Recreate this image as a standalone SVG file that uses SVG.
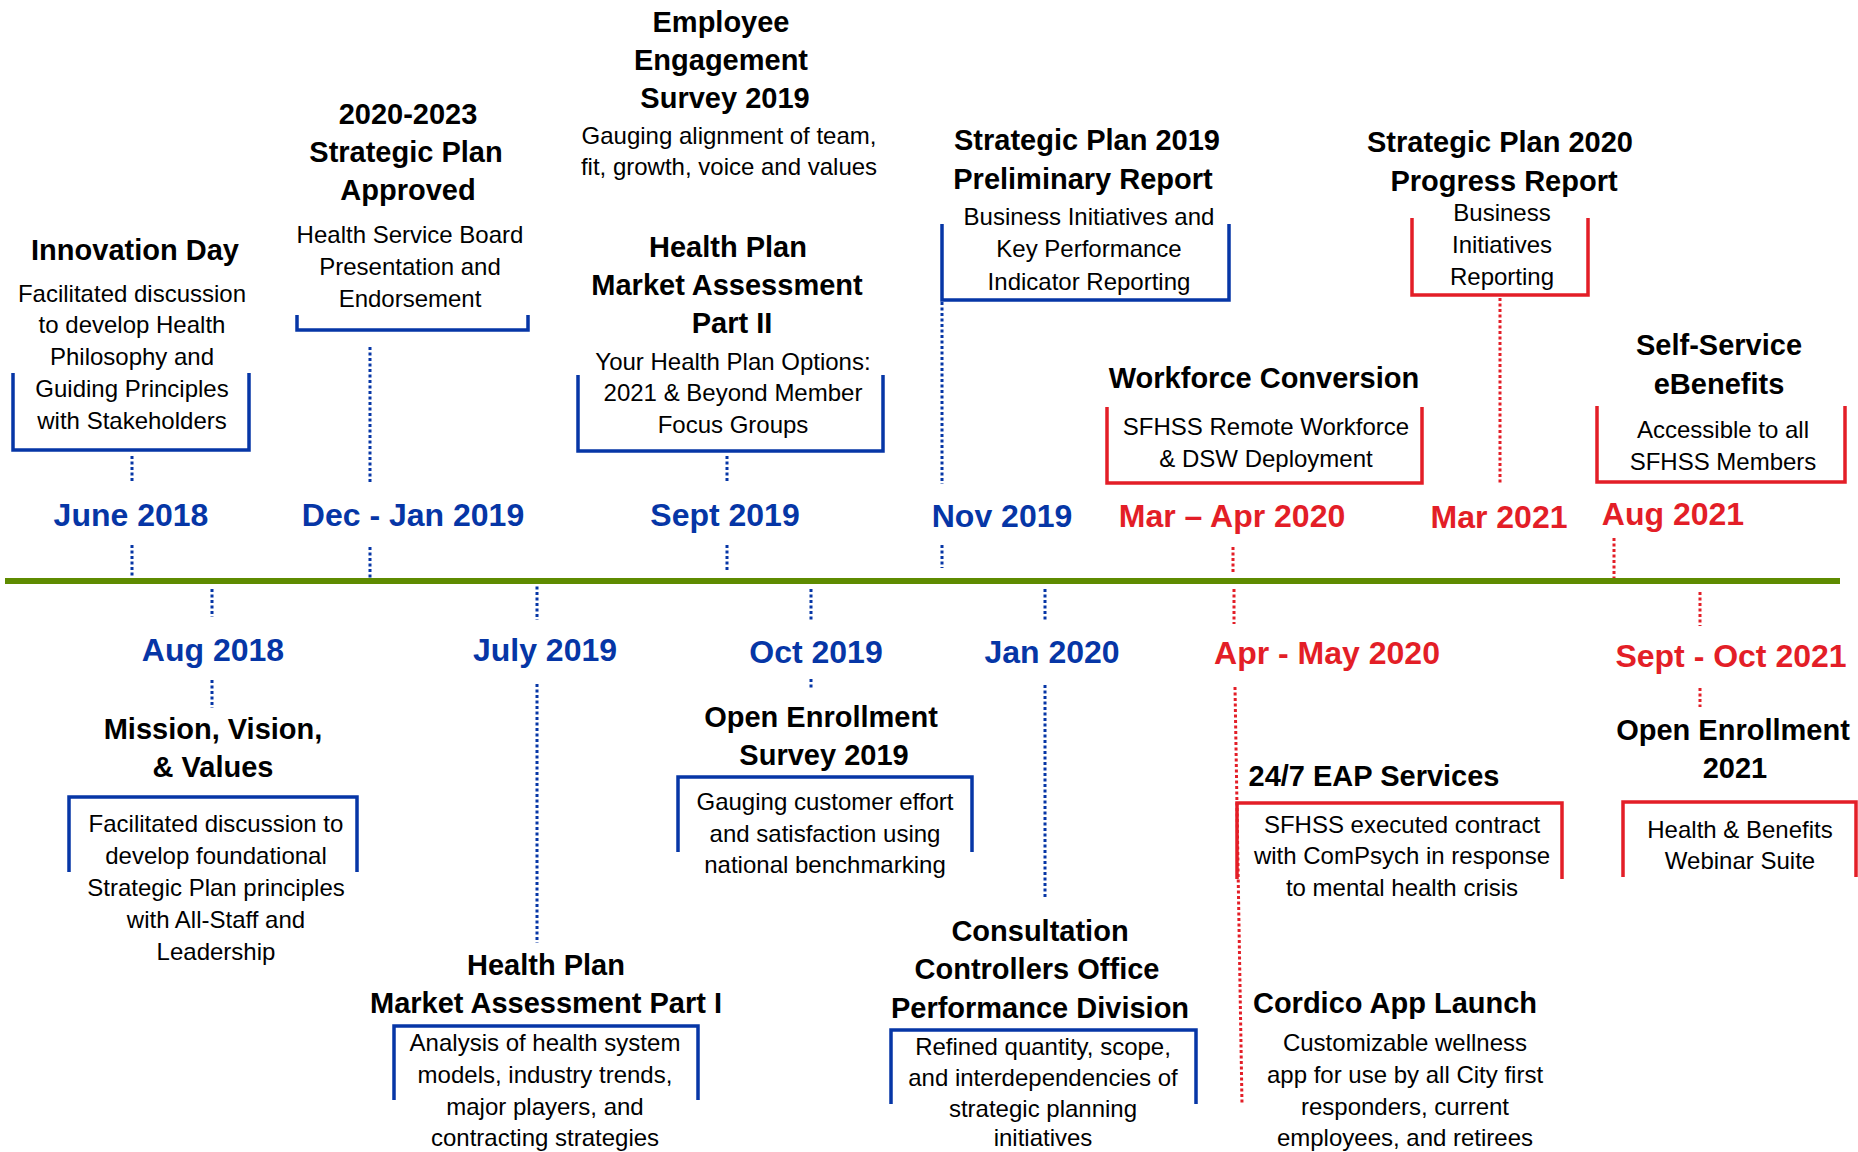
<svg xmlns="http://www.w3.org/2000/svg" width="1858" height="1152" viewBox="0 0 1858 1152">
<style>
.t{font-family:"Liberation Sans",Arial,sans-serif;font-weight:bold;font-size:29px;fill:#000;text-anchor:middle}
.d{font-family:"Liberation Sans",Arial,sans-serif;font-size:24px;fill:#000;text-anchor:middle}
.db{font-family:"Liberation Sans",Arial,sans-serif;font-weight:bold;font-size:32px;fill:#0636a6;text-anchor:middle}
.dr{font-family:"Liberation Sans",Arial,sans-serif;font-weight:bold;font-size:32px;fill:#e31e27;text-anchor:middle}
.bb{fill:none;stroke:#0636a6;stroke-width:3.5}
.br{fill:none;stroke:#e31e27;stroke-width:3.5}
.kb{fill:none;stroke:#0636a6;stroke-width:3;stroke-dasharray:3 2.5}
.kr{fill:none;stroke:#e31e27;stroke-width:3;stroke-dasharray:3 2.5}
</style>
<rect width="1858" height="1152" fill="#fff"/>

<g id="connectors">
<line class="kb" x1="132" y1="456" x2="132" y2="483"/>
<line class="kb" x1="132" y1="545" x2="132" y2="578"/>
<line class="kb" x1="370" y1="347" x2="370" y2="483"/>
<line class="kb" x1="370" y1="547" x2="370" y2="581"/>
<line class="kb" x1="727" y1="456" x2="727" y2="483"/>
<line class="kb" x1="727" y1="545" x2="727" y2="571"/>
<line class="kb" x1="942" y1="302" x2="942" y2="484"/>
<line class="kb" x1="942" y1="545" x2="942" y2="568"/>
<line class="kr" x1="1233" y1="547" x2="1233" y2="572"/>
<line class="kr" x1="1500" y1="298" x2="1500" y2="484"/>
<line class="kr" x1="1614" y1="538" x2="1614" y2="580"/>
<line class="kb" x1="212" y1="589" x2="212" y2="617"/>
<line class="kb" x1="212" y1="680" x2="212" y2="708"/>
<line class="kb" x1="537" y1="581" x2="537" y2="620"/>
<line class="kb" x1="537" y1="684" x2="537" y2="943"/>
<line class="kb" x1="811" y1="589" x2="811" y2="620"/>
<line class="kb" x1="811" y1="679" x2="811" y2="690"/>
<line class="kb" x1="1045" y1="589" x2="1045" y2="621"/>
<line class="kb" x1="1045" y1="685" x2="1045" y2="897"/>
<line class="kr" x1="1234" y1="589" x2="1234" y2="624"/>
<line class="kr" x1="1235" y1="687" x2="1242" y2="1104"/>
<line class="kr" x1="1700" y1="592" x2="1700" y2="626"/>
<line class="kr" x1="1700" y1="688" x2="1700" y2="707"/>
</g>

<g id="timeline">
<line x1="5" y1="581" x2="1840" y2="581" stroke="#5e8b00" stroke-width="6"/>
</g>

<g id="innovation-day">
<text class="t" x="135" y="260">Innovation Day</text>
<text class="d" x="132" y="302">Facilitated discussion</text>
<text class="d" x="132" y="333">to develop Health</text>
<text class="d" x="132" y="365">Philosophy and</text>
<text class="d" x="132" y="397">Guiding Principles</text>
<text class="d" x="132" y="429">with Stakeholders</text>
<path class="bb" d="M13 373 V450 H249 V373"/>
<text class="db" x="131" y="526">June 2018</text>
</g>

<g id="strategic-plan-approved">
<text class="t" x="408" y="124">2020-2023</text>
<text class="t" x="406" y="162">Strategic Plan</text>
<text class="t" x="408" y="200">Approved</text>
<text class="d" x="410" y="243">Health Service Board</text>
<text class="d" x="410" y="275">Presentation and</text>
<text class="d" x="410" y="307">Endorsement</text>
<path class="bb" d="M297 315 V330 H528 V315"/>
<text class="db" x="413" y="526">Dec - Jan 2019</text>
</g>

<g id="employee-engagement">
<text class="t" x="721" y="32">Employee</text>
<text class="t" x="721" y="70">Engagement</text>
<text class="t" x="725" y="108">Survey 2019</text>
<text class="d" x="729" y="144">Gauging alignment of team,</text>
<text class="d" x="729" y="175">fit, growth, voice and values</text>
</g>

<g id="market-assessment-2">
<text class="t" x="728" y="257">Health Plan</text>
<text class="t" x="727" y="295">Market Assessment</text>
<text class="t" x="732" y="333">Part II</text>
<text class="d" x="733" y="370">Your Health Plan Options:</text>
<text class="d" x="733" y="401">2021 &amp; Beyond Member</text>
<text class="d" x="733" y="433">Focus Groups</text>
<path class="bb" d="M578 375 V451 H883 V375"/>
<text class="db" x="725" y="526">Sept 2019</text>
</g>

<g id="preliminary-report">
<text class="t" x="1087" y="150">Strategic Plan 2019</text>
<text class="t" x="1083" y="189">Preliminary Report</text>
<text class="d" x="1089" y="225">Business Initiatives and</text>
<text class="d" x="1089" y="257">Key Performance</text>
<text class="d" x="1089" y="290">Indicator Reporting</text>
<path class="bb" d="M942 224 V300 H1229 V224"/>
<text class="db" x="1002" y="527">Nov 2019</text>
</g>

<g id="workforce-conversion">
<text class="t" x="1264" y="388">Workforce Conversion</text>
<text class="d" x="1266" y="435">SFHSS Remote Workforce</text>
<text class="d" x="1266" y="467">&amp; DSW Deployment</text>
<path class="br" d="M1107 407 V483 H1422 V407"/>
<text class="dr" x="1232" y="527">Mar – Apr 2020</text>
</g>

<g id="progress-report">
<text class="t" x="1500" y="152">Strategic Plan 2020</text>
<text class="t" x="1504" y="191">Progress Report</text>
<text class="d" x="1502" y="221">Business</text>
<text class="d" x="1502" y="253">Initiatives</text>
<text class="d" x="1502" y="285">Reporting</text>
<path class="br" d="M1412 218 V295 H1588 V218"/>
<text class="dr" x="1499" y="528">Mar 2021</text>
</g>

<g id="ebenefits">
<text class="t" x="1719" y="355">Self-Service</text>
<text class="t" x="1719" y="394">eBenefits</text>
<text class="d" x="1723" y="438">Accessible to all</text>
<text class="d" x="1723" y="470">SFHSS Members</text>
<path class="br" d="M1597 406 V482 H1845 V406"/>
<text class="dr" x="1673" y="525">Aug 2021</text>
</g>

<g id="mission-vision">
<text class="db" x="213" y="661">Aug 2018</text>
<text class="t" x="213" y="739">Mission, Vision,</text>
<text class="t" x="213" y="777">&amp; Values</text>
<path class="bb" d="M69 872 V797 H357 V872"/>
<text class="d" x="216" y="832">Facilitated discussion to</text>
<text class="d" x="216" y="864">develop foundational</text>
<text class="d" x="216" y="896">Strategic Plan principles</text>
<text class="d" x="216" y="928">with All-Staff and</text>
<text class="d" x="216" y="960">Leadership</text>
</g>

<g id="market-assessment-1">
<text class="db" x="545" y="661">July 2019</text>
<text class="t" x="546" y="975">Health Plan</text>
<text class="t" x="546" y="1013">Market Assessment Part I</text>
<path class="bb" d="M394 1100 V1026 H698 V1100"/>
<text class="d" x="545" y="1051">Analysis of health system</text>
<text class="d" x="545" y="1083">models, industry trends,</text>
<text class="d" x="545" y="1115">major players, and</text>
<text class="d" x="545" y="1146">contracting strategies</text>
</g>

<g id="open-enrollment-2019">
<text class="db" x="816" y="663">Oct 2019</text>
<text class="t" x="821" y="727">Open Enrollment</text>
<text class="t" x="824" y="765">Survey 2019</text>
<path class="bb" d="M678 852 V777 H972 V852"/>
<text class="d" x="825" y="810">Gauging customer effort</text>
<text class="d" x="825" y="842">and satisfaction using</text>
<text class="d" x="825" y="873">national benchmarking</text>
</g>

<g id="consultation">
<text class="db" x="1052" y="663">Jan 2020</text>
<text class="t" x="1040" y="941">Consultation</text>
<text class="t" x="1037" y="979">Controllers Office</text>
<text class="t" x="1040" y="1018">Performance Division</text>
<path class="bb" d="M891 1104 V1030 H1196 V1104"/>
<text class="d" x="1043" y="1055">Refined quantity, scope,</text>
<text class="d" x="1043" y="1086">and interdependencies of</text>
<text class="d" x="1043" y="1117">strategic planning</text>
<text class="d" x="1043" y="1146">initiatives</text>
</g>

<g id="eap-services">
<text class="dr" x="1327" y="664">Apr - May 2020</text>
<text class="t" x="1374" y="786">24/7 EAP Services</text>
<path class="br" d="M1237 879 V803 H1562 V879"/>
<text class="d" x="1402" y="833">SFHSS executed contract</text>
<text class="d" x="1402" y="864">with ComPsych in response</text>
<text class="d" x="1402" y="896">to mental health crisis</text>
</g>

<g id="cordico">
<text class="t" x="1395" y="1013">Cordico App Launch</text>
<text class="d" x="1405" y="1051">Customizable wellness</text>
<text class="d" x="1405" y="1083">app for use by all City first</text>
<text class="d" x="1405" y="1115">responders, current</text>
<text class="d" x="1405" y="1146">employees, and retirees</text>
</g>

<g id="open-enrollment-2021">
<text class="dr" x="1731" y="667">Sept - Oct 2021</text>
<text class="t" x="1733" y="740">Open Enrollment</text>
<text class="t" x="1735" y="778">2021</text>
<path class="br" d="M1623 877 V802 H1856 V877"/>
<text class="d" x="1740" y="838">Health &amp; Benefits</text>
<text class="d" x="1740" y="869">Webinar Suite</text>
</g>
</svg>
